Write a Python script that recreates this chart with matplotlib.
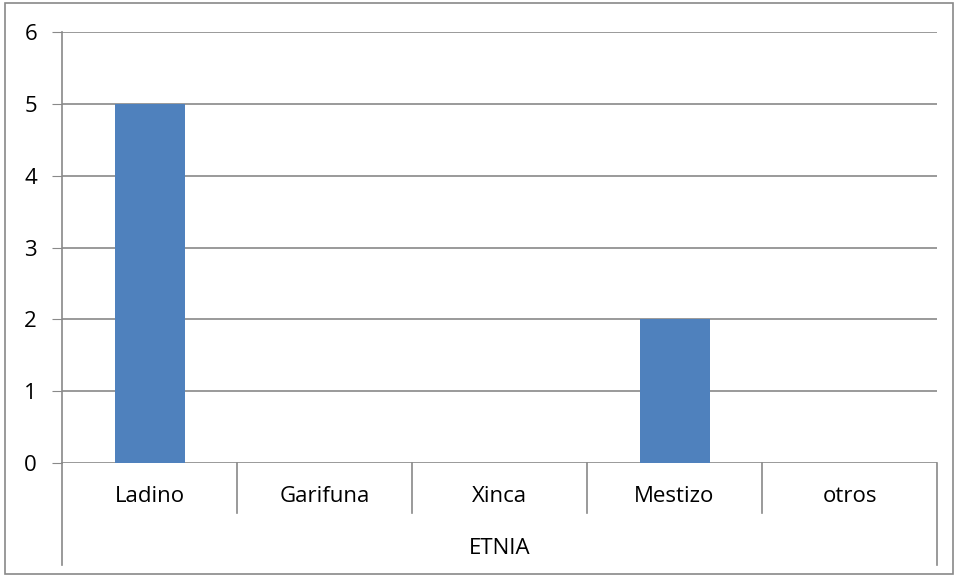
import matplotlib.pyplot as plt
from matplotlib.lines import Line2D
from matplotlib.patches import Rectangle

categories = ["Ladino", "Garifuna", "Xinca", "Mestizo", "otros"]
values = [5, 0, 0, 2, 0]
axis_title = "ETNIA"
y_ticks = [0, 1, 2, 3, 4, 5, 6]

GRID = "#898989"
BAR = "#4F81BD"


def main():
    plt.rcParams["font.family"] = ["Open Sans", "DejaVu Sans"]
    W, H = 955, 576
    fig = plt.figure(figsize=(W / 100, H / 100), dpi=100)

    x0, x1, y_top, y_bot = 62, 937, 32, 463
    ax = fig.add_axes([x0 / W, 1 - y_bot / H, (x1 - x0) / W, (y_bot - y_top) / H])

    n = len(categories)
    xs = list(range(n))
    ax.bar(xs, values, width=0.4, color=BAR, zorder=3)
    ax.set_xlim(-0.5, n - 0.5)
    ax.set_ylim(0, 6)
    ax.set_yticks(y_ticks)
    ax.set_yticklabels([str(t) for t in y_ticks], fontsize=16)
    ax.tick_params(axis="y", length=7, color=GRID, pad=11)
    ax.set_xticks([])
    for t in y_ticks:
        ax.axhline(t, color=GRID, lw=1.2, zorder=1)
    for s in ["top", "right", "bottom"]:
        ax.spines[s].set_visible(False)
    ax.spines["left"].set_color(GRID)
    ax.spines["left"].set_linewidth(1.2)

    # category labels and separators below the axis (figure pixels)
    def fx(px):
        return px / W

    def fy(py):
        return 1 - py / H

    cw = (x1 - x0) / n
    for i, c in enumerate(categories):
        cx = x0 + cw * (i + 0.5)
        fig.text(fx(cx), fy(497), c, ha="center", va="center", fontsize=16)
    for i in range(1, n):
        bx = x0 + cw * i
        fig.add_artist(Line2D([fx(bx), fx(bx)], [fy(463), fy(513)], color=GRID, lw=1.2))
    fig.add_artist(Line2D([fx(x0), fx(x0)], [fy(463), fy(565)], color=GRID, lw=1.2))
    fig.add_artist(Line2D([fx(x1), fx(x1)], [fy(463), fy(565)], color=GRID, lw=1.2))
    fig.text(fx((x0 + x1) / 2), fy(549), axis_title, ha="center", va="center", fontsize=16)

    # outer chart border
    fig.add_artist(Rectangle((fx(5), fy(574)), fx(948), 571 / H, transform=fig.transFigure,
                             fill=False, edgecolor=GRID, lw=1.2))

    fig.savefig("out.png", dpi=100)


if __name__ == "__main__":
    main()
